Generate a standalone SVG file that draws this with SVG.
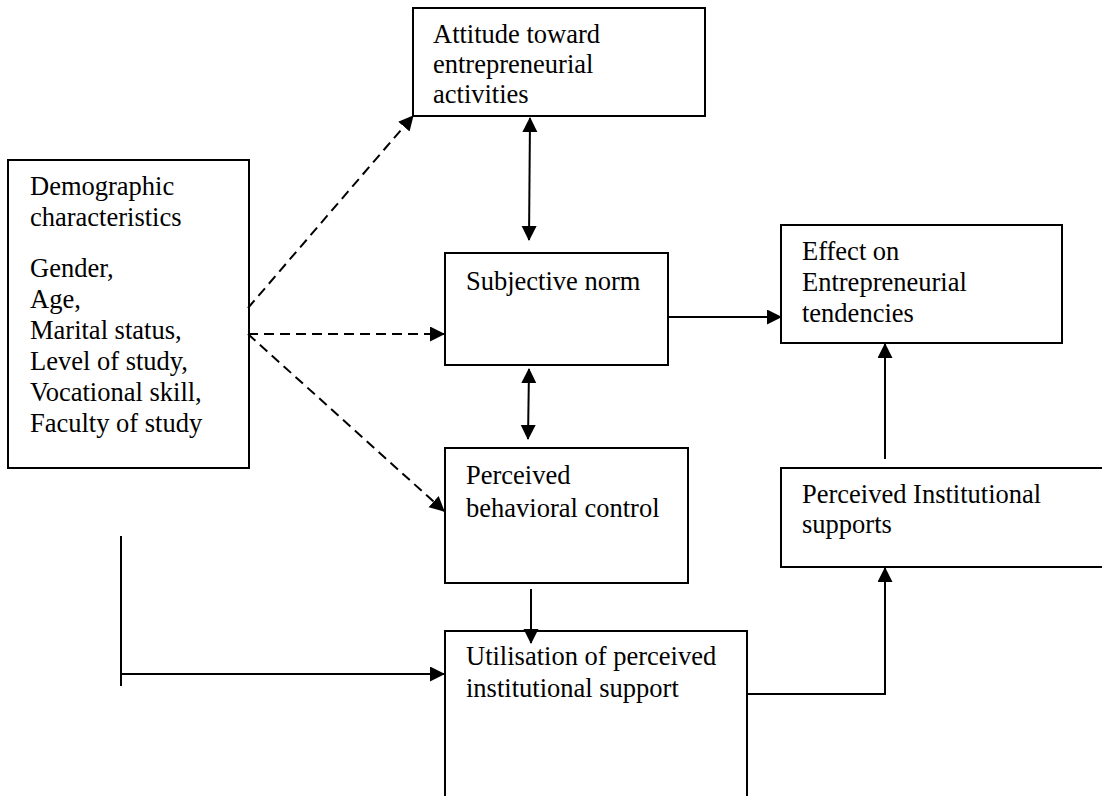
<svg xmlns="http://www.w3.org/2000/svg" width="1102" height="796" viewBox="0 0 1102 796">
<style>
.box{fill:#fff;stroke:#000;stroke-width:2}
.t{font-family:'Liberation Serif','Times New Roman',serif;font-size:26.5px;fill:#000}
.c{fill:none;stroke:#000;stroke-width:2}
.d{stroke-dasharray:10 6}
</style>
<defs>
<marker id="ah" markerUnits="userSpaceOnUse" markerWidth="16" markerHeight="16" refX="14" refY="7.5" orient="auto-start-reverse">
<path d="M0,0 L15,7.5 L0,15 z" fill="#000"/>
</marker>
</defs>
<rect width="1102" height="796" fill="#fff"/>
<g id="attitude">
<rect class="box" x="413" y="8" width="292" height="108"/>
<text class="t" x="433" y="43">Attitude toward</text>
<text class="t" x="433" y="73">entrepreneurial</text>
<text class="t" x="433" y="103">activities</text>
</g>
<g id="demographic">
<rect class="box" x="8" y="160" width="241" height="308"/>
<text class="t" x="30" y="195">Demographic</text>
<text class="t" x="30" y="226">characteristics</text>
<text class="t" x="30" y="277">Gender,</text>
<text class="t" x="30" y="308">Age,</text>
<text class="t" x="30" y="339">Marital status,</text>
<text class="t" x="30" y="370">Level of study,</text>
<text class="t" x="30" y="401">Vocational skill,</text>
<text class="t" x="30" y="432">Faculty of study</text>
</g>
<g id="subjective">
<rect class="box" x="445" y="253" width="223" height="112"/>
<text class="t" x="466" y="290">Subjective norm</text>
</g>
<g id="pbc">
<rect class="box" x="445" y="448" width="243" height="135"/>
<text class="t" x="466" y="484">Perceived</text>
<text class="t" x="466" y="517">behavioral control</text>
</g>
<g id="utilisation">
<rect class="box" x="445" y="631" width="302" height="175"/>
<text class="t" x="466" y="665">Utilisation of perceived</text>
<text class="t" x="466" y="697">institutional support</text>
</g>
<g id="effect">
<rect class="box" x="781" y="225" width="281" height="118"/>
<text class="t" x="802" y="260">Effect on</text>
<text class="t" x="802" y="291">Entrepreneurial</text>
<text class="t" x="802" y="322">tendencies</text>
</g>
<g id="institutional">
<rect class="box" x="781" y="468" width="330" height="99"/>
<text class="t" x="802" y="503">Perceived Institutional</text>
<text class="t" x="802" y="533">supports</text>
</g>
<g id="connectors">
<line class="c d" x1="248" y1="308" x2="413" y2="116" marker-end="url(#ah)"/>
<line class="c d" x1="248" y1="334" x2="444" y2="334" marker-end="url(#ah)"/>
<line class="c d" x1="248" y1="334" x2="444" y2="511" marker-end="url(#ah)"/>
<line class="c" x1="530" y1="118" x2="529" y2="240" marker-start="url(#ah)" marker-end="url(#ah)"/>
<line class="c" x1="529" y1="369" x2="528" y2="439" marker-start="url(#ah)" marker-end="url(#ah)"/>
<line class="c" x1="531" y1="589" x2="531" y2="643" marker-end="url(#ah)"/>
<line class="c" x1="668" y1="317" x2="781" y2="317" marker-end="url(#ah)"/>
<line class="c" x1="885" y1="459" x2="885" y2="344" marker-end="url(#ah)"/>
<polyline class="c" points="747,694 885,694 885,568" marker-end="url(#ah)"/>
<line class="c" x1="121" y1="536" x2="121" y2="686"/>
<line class="c" x1="121" y1="674" x2="444" y2="674" marker-end="url(#ah)"/>
</g>
</svg>
